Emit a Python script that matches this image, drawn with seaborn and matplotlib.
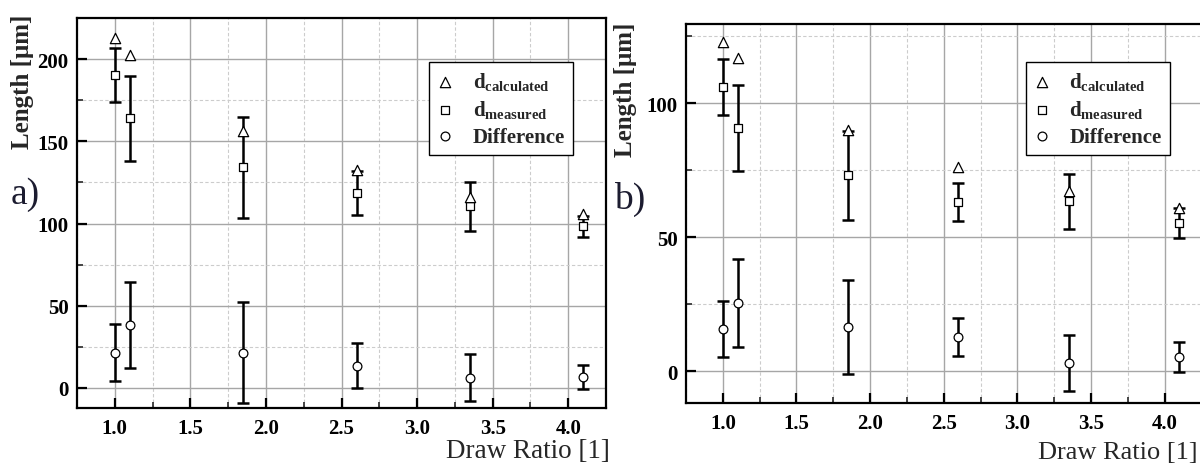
import matplotlib
matplotlib.use("Agg")
import matplotlib.pyplot as plt
import seaborn as sns
import pandas as pd
from matplotlib.ticker import MultipleLocator
from matplotlib.font_manager import FontProperties

# ---------------- data ----------------
ratio = [1.0, 1.1, 1.85, 2.6, 3.35, 4.1]

a_calc = [212.8, 202.4, 156.0, 132.3, 115.9, 105.5]
a_meas = [190.6, 164.0, 134.1, 118.3, 110.4, 98.2]
a_meas_err = [16.4, 25.9, 30.5, 13.4, 14.7, 6.1]
a_diff = [21.3, 38.4, 21.3, 13.4, 6.1, 6.7]
a_diff_err = [17.3, 26.2, 30.7, 13.7, 14.3, 7.3]

b_calc = [122.8, 116.8, 89.9, 76.1, 67.2, 60.8]
b_meas = [106.0, 90.7, 73.1, 63.0, 63.4, 55.2]
b_meas_err = [10.6, 16.2, 16.6, 7.0, 10.3, 5.6]
b_diff = [15.7, 25.4, 16.4, 12.7, 3.0, 5.2]
b_diff_err = [10.6, 16.3, 17.5, 7.1, 10.3, 5.6]

series_labels = [r"$\mathbf{d}_{\mathbf{calculated}}$",
                 r"$\mathbf{d}_{\mathbf{measured}}$",
                 "Difference"]
x_label = "Draw Ratio [1]"
y_label = "Length [μm]"
panel_tags = ["a)", "b)"]

# ---------------- style ----------------
sns.set_theme(style="white")
plt.rcParams["font.family"] = ["Liberation Serif", "DejaVu Serif"]
plt.rcParams["mathtext.fontset"] = "custom"
plt.rcParams["mathtext.rm"] = "Liberation Serif"
plt.rcParams["mathtext.bf"] = "Liberation Serif:bold"
plt.rcParams["mathtext.it"] = "Liberation Serif:italic"

W, H = 1200, 464
fig = plt.figure(figsize=(W / 100, H / 100), dpi=100)


def px_axes(x0, y_top, x1, y_bot):
    return fig.add_axes([x0 / W, (H - y_bot) / H, (x1 - x0) / W, (y_bot - y_top) / H])


def draw_panel(ax, calc, meas, meas_err, diff, diff_err, ylim, ymajor, legend_anchor):
    ax.set_xlim(0.75, 4.25)
    ax.set_ylim(*ylim)
    ax.xaxis.set_major_locator(MultipleLocator(0.5))
    ax.xaxis.set_minor_locator(MultipleLocator(0.25))
    ax.yaxis.set_major_locator(MultipleLocator(ymajor))
    ax.yaxis.set_minor_locator(MultipleLocator(ymajor / 2))
    ax.grid(which="major", color="#a6a6a6", lw=1.0, ls="-", zorder=0)
    ax.grid(which="minor", color="#cccccc", lw=0.8, ls=(0, (3, 2)), zorder=0)
    ax.set_axisbelow(True)

    # error bars
    ax.errorbar(ratio, meas, yerr=meas_err, fmt="none", ecolor="black",
                elinewidth=1.8, capsize=4, capthick=1.8, zorder=2)
    ax.errorbar(ratio, diff, yerr=diff_err, fmt="none", ecolor="black",
                elinewidth=1.8, capsize=4, capthick=1.8, zorder=2)

    df_c = pd.DataFrame({"ratio": ratio, "value": calc})
    df_m = pd.DataFrame({"ratio": ratio, "value": meas})
    df_d = pd.DataFrame({"ratio": ratio, "value": diff})
    sns.scatterplot(data=df_c, x="ratio", y="value", marker="^", s=55,
                    color="white", edgecolor="black", linewidth=0.9,
                    ax=ax, label=series_labels[0], zorder=4)
    sns.scatterplot(data=df_m, x="ratio", y="value", marker="s", s=30,
                    color="white", edgecolor="black", linewidth=0.9,
                    ax=ax, label=series_labels[1], zorder=3)
    sns.scatterplot(data=df_d, x="ratio", y="value", marker="o", s=40,
                    color="white", edgecolor="black", linewidth=0.9,
                    ax=ax, label=series_labels[2], zorder=3)

    ax.set_xlabel("")
    ax.set_ylabel("")
    for s in ax.spines.values():
        s.set_color("black")
        s.set_linewidth(1.6)
    ax.tick_params(which="major", direction="in", length=7, width=1.6,
                   left=True, bottom=True, top=False, right=False, pad=7,
                   labelsize=15, colors="black")
    ax.tick_params(which="minor", direction="in", length=4, width=1.2,
                   left=True, bottom=True, top=False, right=False)
    for lab in ax.get_xticklabels() + ax.get_yticklabels():
        lab.set_fontweight("bold")
    ax.tick_params(axis="y", pad=6)

    leg = ax.legend(loc="upper left", bbox_to_anchor=legend_anchor,
                    borderaxespad=0.0,
                    frameon=True, fancybox=False, edgecolor="black",
                    framealpha=1, borderpad=0.4, handlelength=0.8,
                    handletextpad=0.9, labelspacing=0.3,
                    prop=FontProperties(family="Liberation Serif", weight="bold", size=15))
    leg.get_frame().set_linewidth(1.0)
    return ax


# panel a
ax_a = px_axes(77, 19, 606, 409)
draw_panel(ax_a, a_calc, a_meas, a_meas_err, a_diff, a_diff_err,
           (-12.2, 225), 50, (0.665, 0.888))

# panel b
ax_b = px_axes(686, 25, 1201.5, 404)
draw_panel(ax_b, b_calc, b_meas, b_meas_err, b_diff, b_diff_err,
           (-11.9, 129.5), 50, (0.659, 0.90))

# axis labels and panel tags
fig.text(23 / W, 1 - 15 / H, y_label, rotation=90, ha="center", va="top",
         fontsize=18, fontweight="bold")
fig.text(626 / W, 1 - 23 / H, y_label, rotation=90, ha="center", va="top",
         fontsize=18, fontweight="bold")
fig.text(610 / W, 1 - 458 / H, x_label, ha="right", va="baseline", fontsize=19.5)
fig.text(1198 / W, 1 - 459 / H, x_label, ha="right", va="baseline", fontsize=19)
fig.text(25 / W, 1 - 195 / H, panel_tags[0], ha="center", va="center",
         fontsize=27, color="#1c1c30")
fig.text(630 / W, 1 - 199 / H, panel_tags[1], ha="center", va="center",
         fontsize=27, color="#1c1c30")

fig.savefig("out.png", dpi=100, facecolor="white")
